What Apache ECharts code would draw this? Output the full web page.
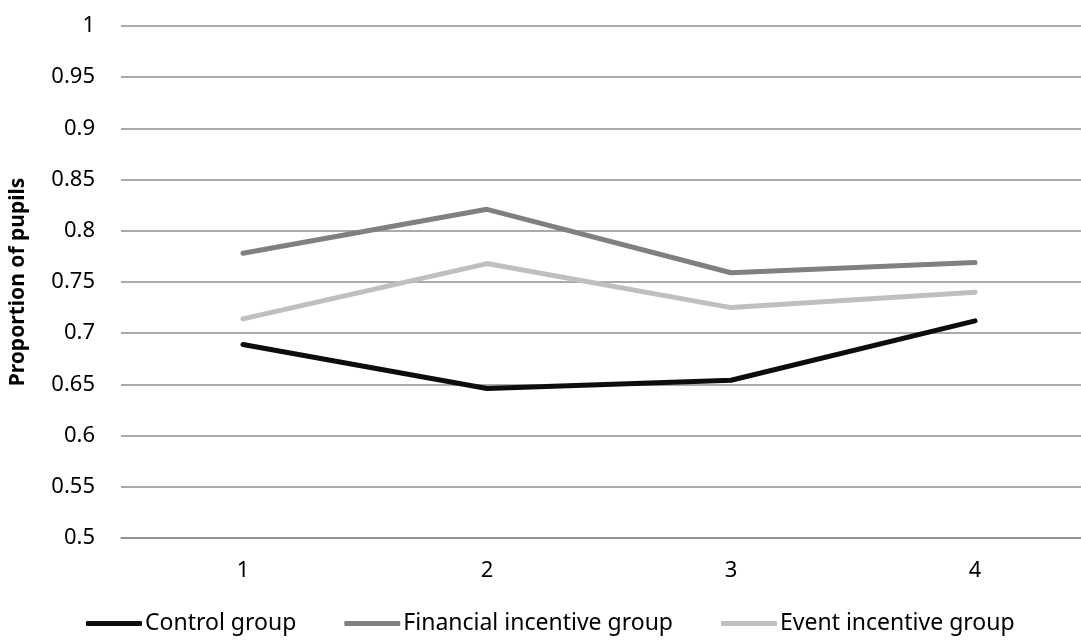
<!DOCTYPE html>
<html>
<head>
<meta charset="utf-8">
<script src="https://cdn.jsdelivr.net/npm/echarts@6/dist/echarts.min.js"></script>
<style>
  html, body { margin: 0; padding: 0; background: #ffffff; overflow: hidden; }
  /* the plot area runs a little past the right edge of the window */
  #chart { width: 1098px; height: 640px; }
</style>
</head>
<body>
<div id="chart"></div>
<script>
// Survey rounds on the x axis
var categories = ['1', '2', '3', '4'];

// Proportion of pupils per group
var controlGroup   = [0.689, 0.646, 0.654, 0.712];
var financialGroup = [0.778, 0.821, 0.759, 0.769];
var eventGroup     = [0.714, 0.768, 0.725, 0.740];

var seriesNames = ['Control group', 'Financial incentive group', 'Event incentive group'];
var seriesColors = ['#0d0d0d', '#808080', '#bfbfbf'];

var FONT = '"Noto Sans", sans-serif';

function lineSeries(name, data, color) {
  return {
    name: name,
    type: 'line',
    data: data,
    symbol: 'none',
    smooth: false,
    lineStyle: { color: color, width: 5, cap: 'round', join: 'round' },
    itemStyle: { color: color }
  };
}

var chart = echarts.init(document.getElementById('chart'), null, { renderer: 'canvas' });
chart.setOption({
  animation: false,
  backgroundColor: '#ffffff',
  grid: { left: 117, top: 26, right: 1, bottom: 102, containLabel: false },
  legend: {
    data: seriesNames,
    left: 81,
    bottom: 0,
    itemWidth: 56,
    itemHeight: 5,
    itemGap: 48,
    icon: 'roundRect',
    textStyle: { fontFamily: FONT, fontSize: 23, color: '#000000', padding: [0, 0, 0, -2] }
  },
  xAxis: {
    type: 'category',
    data: categories,
    boundaryGap: true,
    axisLine: { show: true, lineStyle: { color: '#8e8e8e', width: 1.5 } },
    axisTick: { show: false },
    axisLabel: { fontFamily: FONT, fontSize: 22, color: '#000000', margin: 22 }
  },
  yAxis: {
    type: 'value',
    min: 0.5,
    max: 1,
    interval: 0.05,
    name: 'Proportion of pupils',
    nameLocation: 'middle',
    nameGap: 92,
    nameTextStyle: { fontFamily: FONT, fontSize: 21, fontWeight: 'bold', color: '#000000' },
    axisLine: { show: false },
    axisTick: { show: false },
    splitLine: { show: true, lineStyle: { color: '#8e8e8e', width: 1.5 } },
    axisLabel: {
      fontFamily: FONT, fontSize: 22, color: '#000000', margin: 26,
      formatter: function (v) { return String(parseFloat(v.toFixed(2))); }
    }
  },
  series: [
    lineSeries(seriesNames[0], controlGroup, seriesColors[0]),
    lineSeries(seriesNames[1], financialGroup, seriesColors[1]),
    lineSeries(seriesNames[2], eventGroup, seriesColors[2])
  ]
});
</script>
</body>
</html>
